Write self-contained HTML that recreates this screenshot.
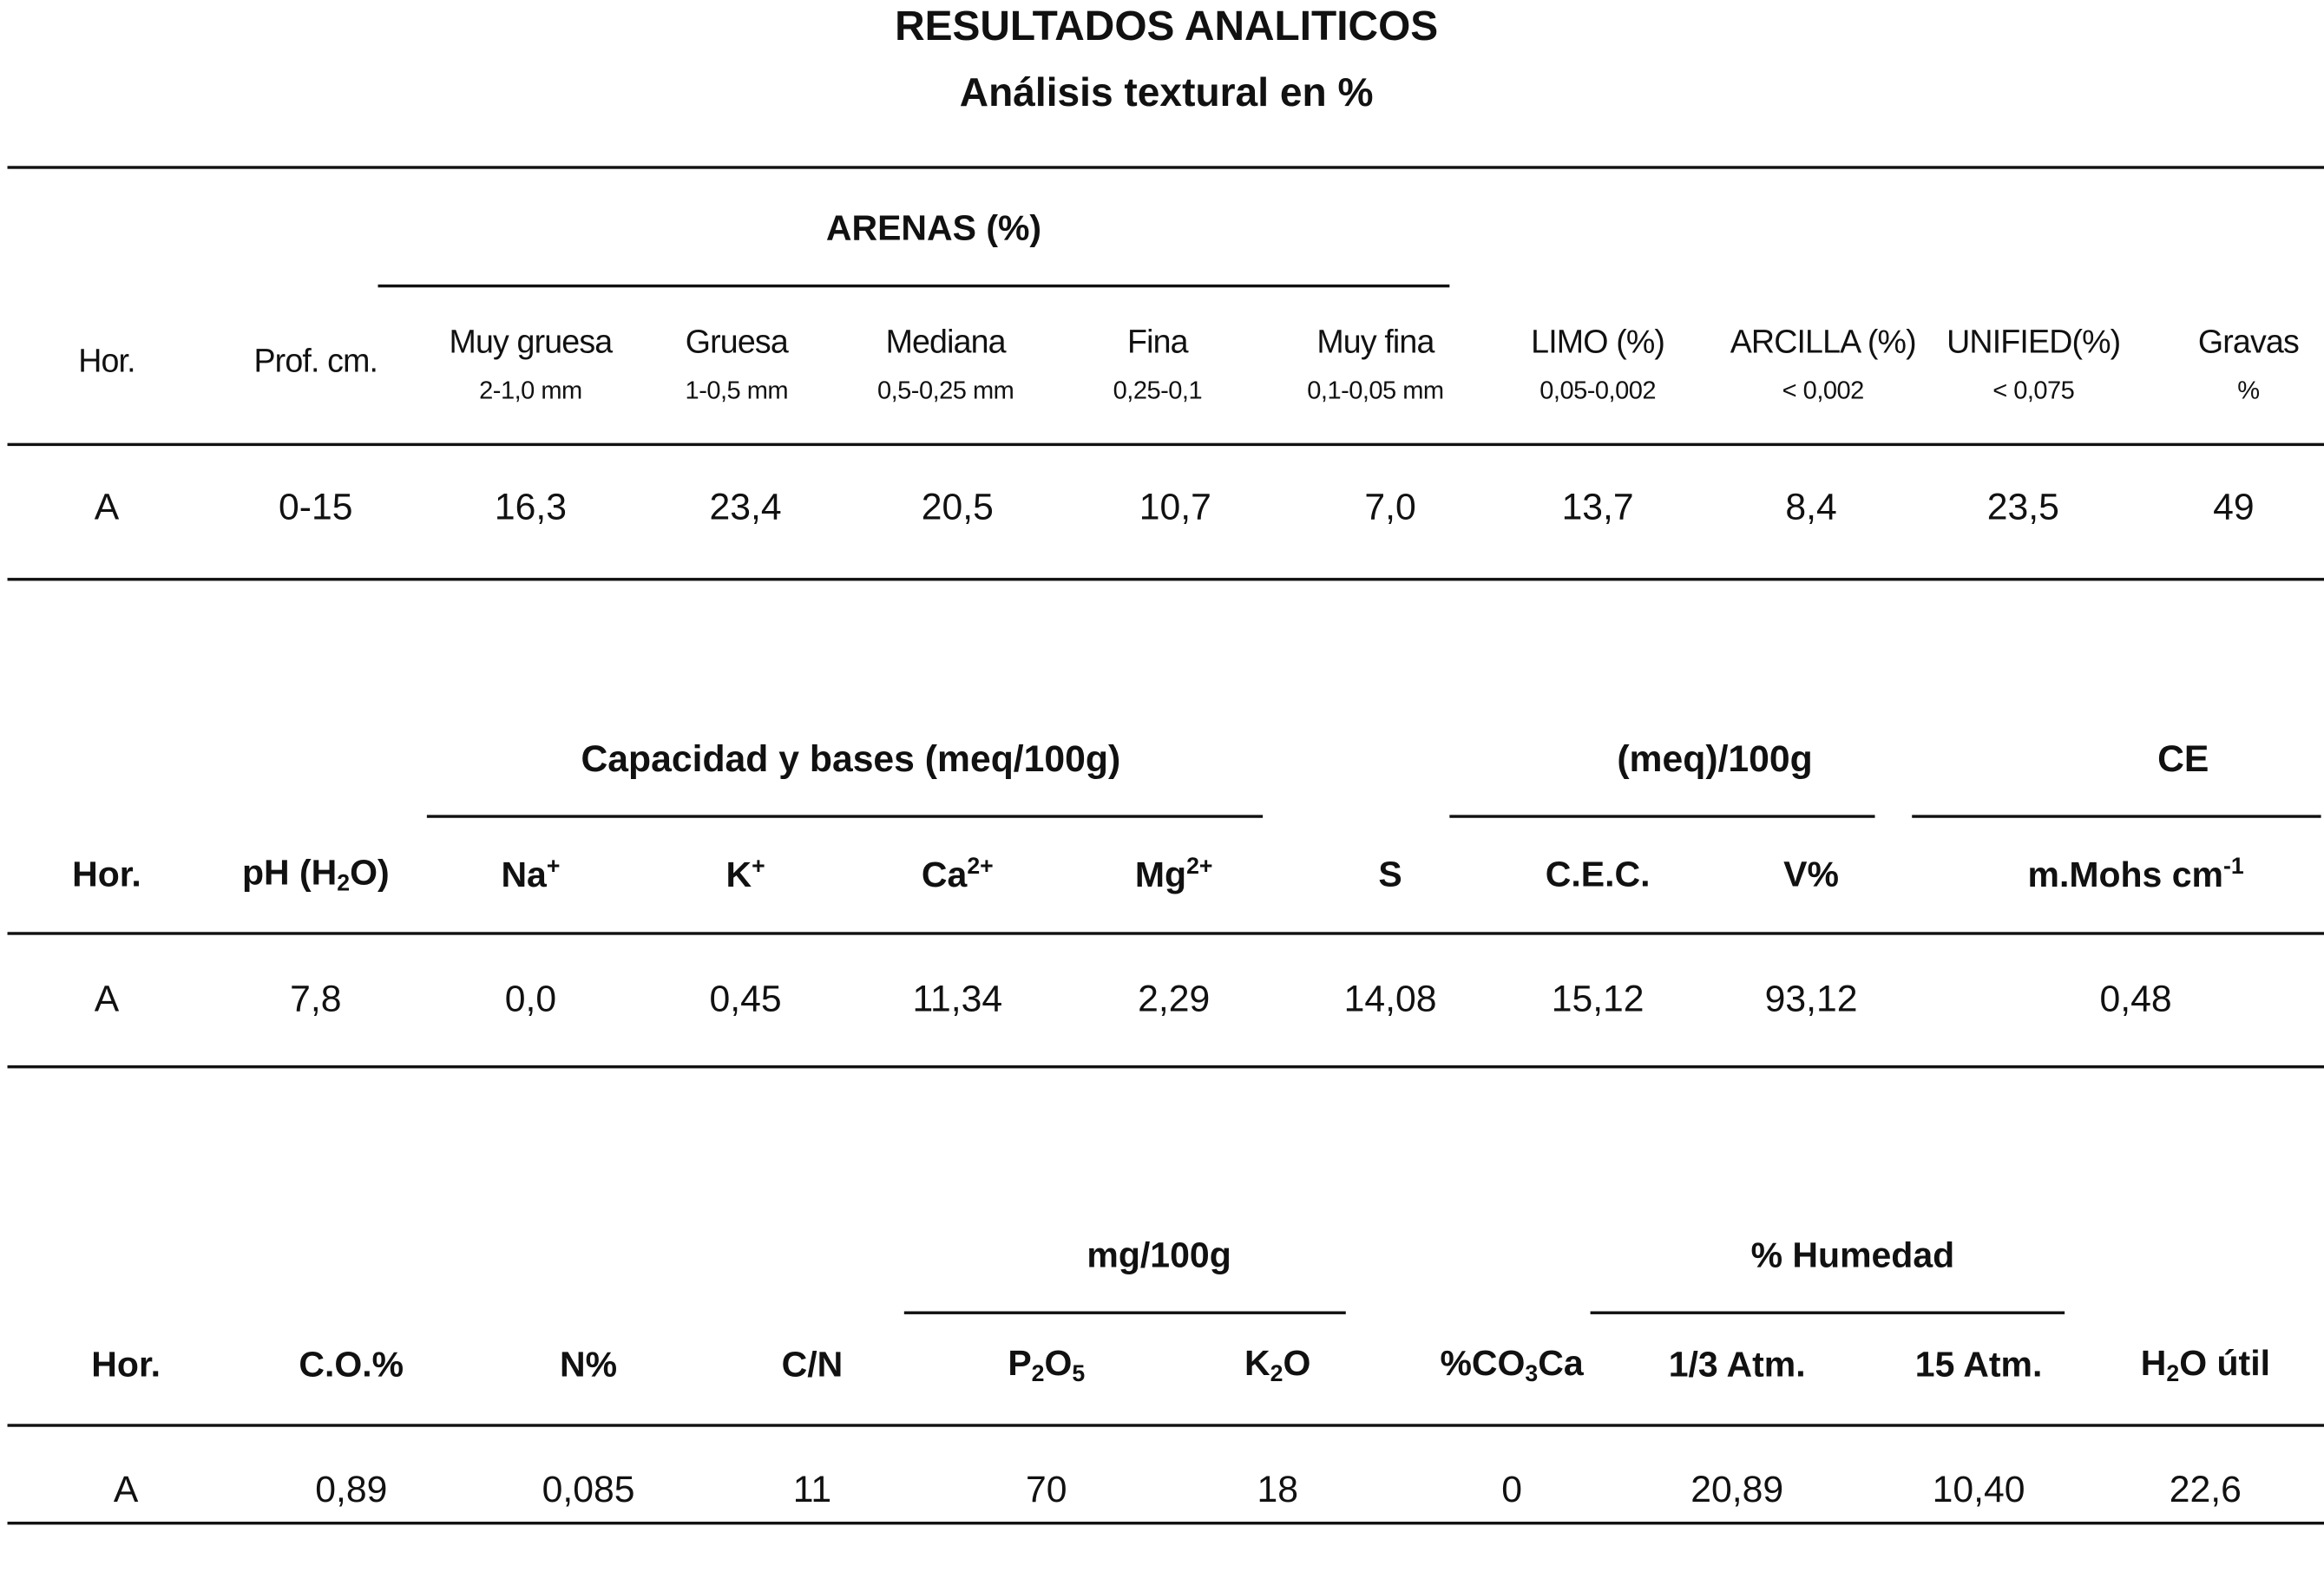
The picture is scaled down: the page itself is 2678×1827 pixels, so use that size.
<!DOCTYPE html>
<html><head><meta charset="utf-8"><style>
html,body{margin:0;padding:0;background:#fff;}
body{width:2678px;height:1827px;overflow:hidden;position:relative;}
#c{position:absolute;left:0;top:0;width:1568px;height:1070px;transform:scale(1.70791);transform-origin:0 0;font-family:"Liberation Sans",sans-serif;color:#111;}
.t{position:absolute;transform:translate(-50%,-50%);white-space:nowrap;}
.b{font-weight:bold;}
.h{font-size:22px;letter-spacing:-0.5px;}
.s{font-size:17px;letter-spacing:-0.3px;}
.d{font-size:25px;}
.bh{font-size:24px;font-weight:bold;}
.l{position:absolute;height:2px;background:#111;}
sub,sup{font-size:65%;}
sub{vertical-align:-4px;} sup{vertical-align:9px;}
</style></head><body><div id="c">
<div class="t b" style="left:787px;top:18px;font-size:28px">RESULTADOS ANALITICOS</div>
<div class="t b" style="left:787px;top:63px;font-size:27px">Análisis textural en %</div>
<div class="l" style="left:5px;width:1563px;top:112px"></div>
<div class="t b" style="left:630px;top:155px;font-size:24px">ARENAS (%)</div>
<div class="l" style="left:255px;width:723px;top:192px;height:1.5px"></div>
<div class="t h" style="left:72px;top:244px">Hor.</div>
<div class="t h" style="left:213px;top:244px">Prof. cm.</div>
<div class="t h" style="left:358px;top:231px">Muy gruesa</div><div class="t s" style="left:358px;top:264px">2-1,0 mm</div>
<div class="t h" style="left:497px;top:231px">Gruesa</div><div class="t s" style="left:497px;top:264px">1-0,5 mm</div>
<div class="t h" style="left:638px;top:231px">Mediana</div><div class="t s" style="left:638px;top:264px">0,5-0,25 mm</div>
<div class="t h" style="left:781px;top:231px">Fina</div><div class="t s" style="left:781px;top:264px">0,25-0,1</div>
<div class="t h" style="left:928px;top:231px">Muy fina</div><div class="t s" style="left:928px;top:264px">0,1-0,05 mm</div>
<div class="t h" style="left:1078px;top:231px">LIMO (%)</div><div class="t s" style="left:1078px;top:264px">0,05-0,002</div>
<div class="t h" style="left:1230px;top:231px">ARCILLA (%)</div><div class="t s" style="left:1230px;top:264px">&lt; 0,002</div>
<div class="t h" style="left:1372px;top:231px">UNIFIED(%)</div><div class="t s" style="left:1372px;top:264px">&lt; 0,075</div>
<div class="t h" style="left:1517px;top:231px">Gravas</div><div class="t s" style="left:1517px;top:264px">%</div>
<div class="l" style="left:5px;width:1563px;top:299px"></div>
<div class="t d" style="left:72px;top:343px">A</div>
<div class="t d" style="left:213px;top:343px">0-15</div>
<div class="t d" style="left:358px;top:343px">16,3</div>
<div class="t d" style="left:503px;top:343px">23,4</div>
<div class="t d" style="left:646px;top:343px">20,5</div>
<div class="t d" style="left:793px;top:343px">10,7</div>
<div class="t d" style="left:938px;top:343px">7,0</div>
<div class="t d" style="left:1078px;top:343px">13,7</div>
<div class="t d" style="left:1222px;top:343px">8,4</div>
<div class="t d" style="left:1365px;top:343px">23,5</div>
<div class="t d" style="left:1507px;top:343px">49</div>
<div class="l" style="left:5px;width:1563px;top:390px"></div>

<div class="t b" style="left:574px;top:513px;font-size:25px">Capacidad y bases (meq/100g)</div>
<div class="t b" style="left:1157px;top:513px;font-size:25px">(meq)/100g</div>
<div class="t b" style="left:1473px;top:513px;font-size:25px">CE</div>
<div class="l" style="left:288px;width:564px;top:550px;height:1.5px"></div>
<div class="l" style="left:978px;width:287px;top:550px;height:1.5px"></div>
<div class="l" style="left:1290px;width:276px;top:550px;height:1.5px"></div>
<div class="t bh" style="left:72px;top:591px">Hor.</div>
<div class="t bh" style="left:213px;top:591px">pH (H<sub>2</sub>O)</div>
<div class="t bh" style="left:358px;top:591px">Na<sup>+</sup></div>
<div class="t bh" style="left:503px;top:591px">K<sup>+</sup></div>
<div class="t bh" style="left:646px;top:591px">Ca<sup>2+</sup></div>
<div class="t bh" style="left:792px;top:591px">Mg<sup>2+</sup></div>
<div class="t bh" style="left:938px;top:591px">S</div>
<div class="t bh" style="left:1078px;top:591px">C.E.C.</div>
<div class="t bh" style="left:1222px;top:591px">V%</div>
<div class="t bh" style="left:1441px;top:591px">m.Mohs cm<sup>-1</sup></div>
<div class="l" style="left:5px;width:1563px;top:629px"></div>
<div class="t d" style="left:72px;top:675px">A</div>
<div class="t d" style="left:213px;top:675px">7,8</div>
<div class="t d" style="left:358px;top:675px">0,0</div>
<div class="t d" style="left:503px;top:675px">0,45</div>
<div class="t d" style="left:646px;top:675px">11,34</div>
<div class="t d" style="left:792px;top:675px">2,29</div>
<div class="t d" style="left:938px;top:675px">14,08</div>
<div class="t d" style="left:1078px;top:675px">15,12</div>
<div class="t d" style="left:1222px;top:675px">93,12</div>
<div class="t d" style="left:1441px;top:675px">0,48</div>
<div class="l" style="left:5px;width:1563px;top:719px"></div>

<div class="t bh" style="left:782px;top:848px">mg/100g</div>
<div class="t bh" style="left:1250px;top:848px">% Humedad</div>
<div class="l" style="left:610px;width:298px;top:885px;height:1.5px"></div>
<div class="l" style="left:1073px;width:320px;top:885px;height:1.5px"></div>
<div class="t bh" style="left:85px;top:922px">Hor.</div>
<div class="t bh" style="left:237px;top:922px">C.O.%</div>
<div class="t bh" style="left:397px;top:922px">N%</div>
<div class="t bh" style="left:548px;top:922px">C/N</div>
<div class="t bh" style="left:706px;top:922px">P<sub>2</sub>O<sub>5</sub></div>
<div class="t bh" style="left:862px;top:922px">K<sub>2</sub>O</div>
<div class="t bh" style="left:1020px;top:922px">%CO<sub>3</sub>Ca</div>
<div class="t bh" style="left:1172px;top:922px">1/3 Atm.</div>
<div class="t bh" style="left:1335px;top:922px">15 Atm.</div>
<div class="t bh" style="left:1488px;top:922px">H<sub>2</sub>O útil</div>
<div class="l" style="left:5px;width:1563px;top:961px"></div>
<div class="t d" style="left:85px;top:1006px">A</div>
<div class="t d" style="left:237px;top:1006px">0,89</div>
<div class="t d" style="left:397px;top:1006px">0,085</div>
<div class="t d" style="left:548px;top:1006px">11</div>
<div class="t d" style="left:706px;top:1006px">70</div>
<div class="t d" style="left:862px;top:1006px">18</div>
<div class="t d" style="left:1020px;top:1006px">0</div>
<div class="t d" style="left:1172px;top:1006px">20,89</div>
<div class="t d" style="left:1335px;top:1006px">10,40</div>
<div class="t d" style="left:1488px;top:1006px">22,6</div>
<div class="l" style="left:5px;width:1563px;top:1027px"></div>
</div></body></html>
